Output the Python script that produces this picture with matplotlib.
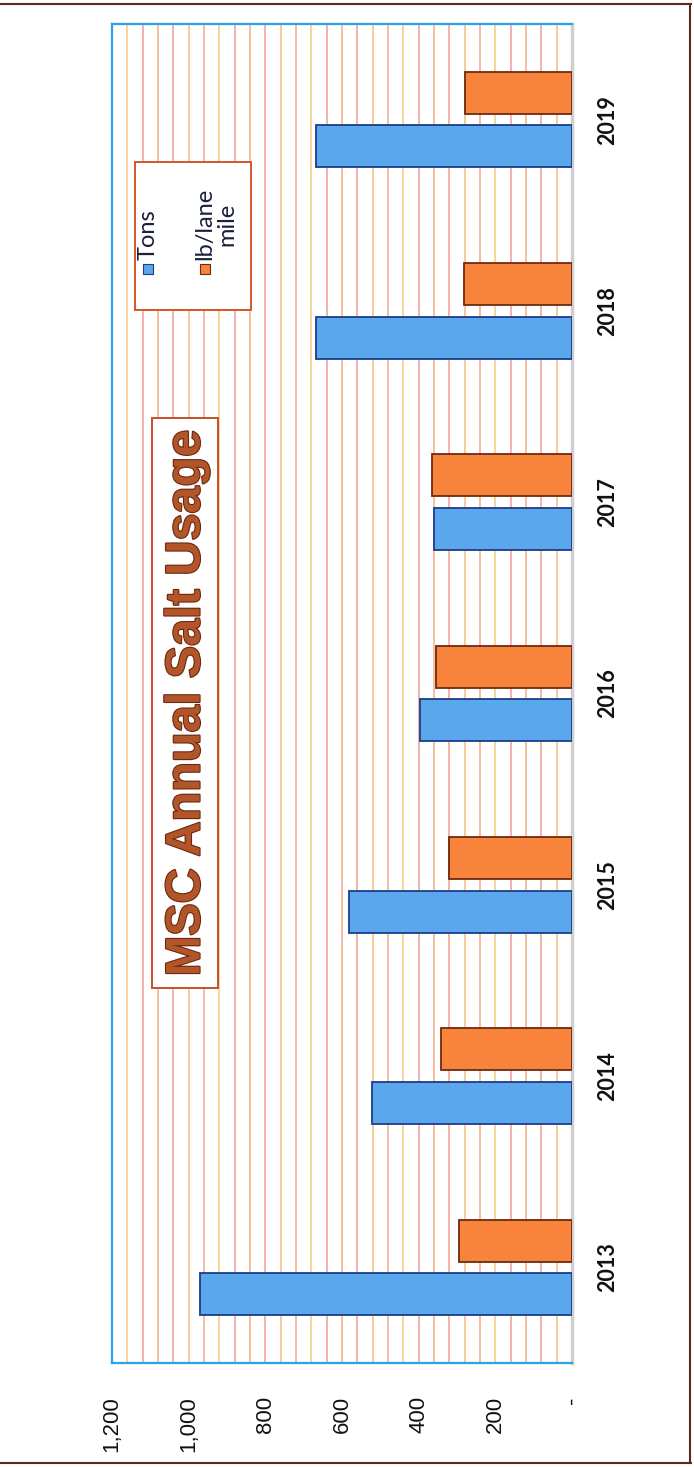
import numpy as np
import matplotlib
matplotlib.use("Agg")
import matplotlib.pyplot as plt
from matplotlib.patches import Rectangle
import matplotlib.patheffects as pe

# Annual salt usage per season
years = ["2013", "2014", "2015", "2016", "2017", "2018", "2019"]
tons = [970, 523, 582, 396, 360, 669, 668]
lb_per_lane_mile = [295, 342, 322, 354, 365, 281, 280]
value_ticks = [0, 200, 400, 600, 800, 1000, 1200]
value_tick_labels = ["-", "200", "400", "600", "800", "1,000", "1,200"]

W, H = 694, 1467
fig = plt.figure(figsize=(W / 100, H / 100), dpi=100)
fig.patch.set_facecolor("white")


def fx(px):
    return px / W


def fy(py):
    return 1 - py / H


# plot area (the whole chart is laid out turned a quarter turn)
left, right, top, bottom = 112, 572, 24, 1363
ax = fig.add_axes([fx(left), fy(bottom), fx(right) - fx(left), fy(top) - fy(bottom)])
ax.set_xlim(1200, 0)
ax.set_ylim(-0.5, len(years) - 0.5)

# striped minor gridlines
grid_cols = ["#f6bc7c", "#f2a090", "#f5ae84", "#f19c98", "#f7c97c", "#f3a88c"]
for i, gx in enumerate(np.arange(40, 1200, 40)):
    ax.axvline(gx, color=grid_cols[i % len(grid_cols)], lw=1.1, zorder=0.5)

pos = np.arange(len(years))
bh = 0.22
off = 0.14
ax.barh(pos - off, tons, height=bh, color="#5aa7ec", edgecolor="#1c3c8c",
        linewidth=1.3, zorder=3, label="Tons")
ax.barh(pos + off, lb_per_lane_mile, height=bh, color="#f7843a",
        edgecolor="#6e2a10", linewidth=1.3, zorder=3, label="lb/lane mile")

# value axis along the bottom
ax.set_xticks(value_ticks)
ax.set_xticklabels(value_tick_labels, rotation=90, fontsize=16,
                   family=["Liberation Sans", "DejaVu Sans"], color="#111111")
ax.tick_params(axis="x", length=0, pad=24)

# category labels on the right
ax.yaxis.tick_right()
ax.set_yticks(pos)
ax.set_yticklabels(years, rotation=90, fontsize=15.5, fontweight="bold",
                   family=["Lato", "DejaVu Sans"], va="center", color="#111111")
ax.tick_params(axis="y", length=0, pad=18)

for side in ("top", "bottom", "left"):
    ax.spines[side].set_color("#2aa3e8")
    ax.spines[side].set_linewidth(1.6)
ax.spines["right"].set_color("#cfcfcf")
ax.spines["right"].set_linewidth(2.5)

# title box
tx0, tx1, ty0, ty1 = 152, 218, 418, 988
fig.patches.append(Rectangle((fx(tx0), fy(ty1)), fx(tx1) - fx(tx0), fy(ty0) - fy(ty1),
                             transform=fig.transFigure, facecolor="white",
                             edgecolor="#c4502a", linewidth=1.4, zorder=5))
title = fig.text(fx(187), fy(703), "MSC Annual Salt Usage", rotation=90,
                 ha="center", va="center", fontsize=35, fontweight="bold",
                 family=["Liberation Sans Narrow", "Liberation Sans"],
                 color="#b2562a", zorder=6)
title.set_path_effects([pe.withStroke(linewidth=1.6, foreground="#6a2810")])

# legend box
lx0, lx1, ly0, ly1 = 135, 251, 162, 310
fig.patches.append(Rectangle((fx(lx0), fy(ly1)), fx(lx1) - fx(lx0), fy(ly0) - fy(ly1),
                             transform=fig.transFigure, facecolor="white",
                             edgecolor="#d4582a", linewidth=1.4, zorder=5))
sq = 10
for cx, fc, ec in [(148, "#5aa7ec", "#1c3c8c"), (205, "#f7843a", "#6e2a10")]:
    fig.patches.append(Rectangle((fx(cx - sq / 2), fy(274)), fx(sq), sq / H,
                                 transform=fig.transFigure, facecolor=fc,
                                 edgecolor=ec, linewidth=0.8, zorder=6))
leg_font = dict(rotation=90, fontsize=17, family=["Lato", "DejaVu Sans"],
                color="#1a1f3a", zorder=7)
fig.text(fx(148), fy(260), "Tons", ha="center", va="bottom", **leg_font)
fig.text(fx(216), fy(260), "lb/lane\nmile", ha="center", va="bottom",
         multialignment="center", linespacing=1.1, **leg_font)

# page border
for xs, ys in [([0, 691], [4, 4]), ([690, 690], [4, 1463]), ([0, 691], [1463, 1463])]:
    fig.add_artist(plt.Line2D([fx(x) for x in xs], [fy(y) for y in ys],
                              transform=fig.transFigure, color="#5a2a20", lw=1.5))

fig.savefig("out.png", dpi=100, facecolor="white")
